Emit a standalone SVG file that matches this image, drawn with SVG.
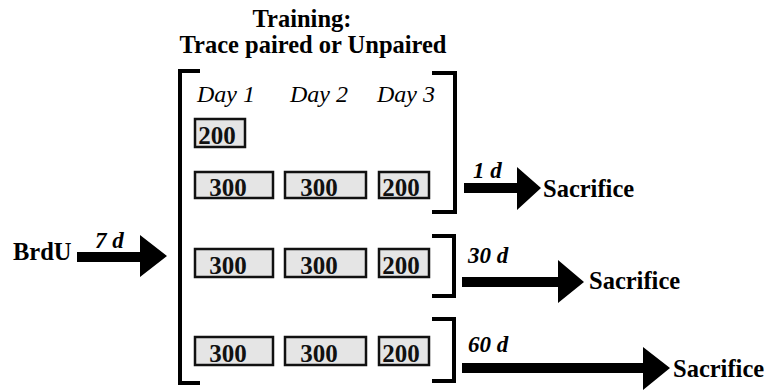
<svg xmlns="http://www.w3.org/2000/svg" width="770" height="391" viewBox="0 0 770 391">
<style>
.b{font-weight:bold;font-size:24.5px;fill:#000}
.i{font-style:italic;font-size:24px;fill:#000}
.bi{font-style:italic;font-weight:bold;font-size:23px;fill:#000}
.box{fill:#e5e5e5;stroke:#111;stroke-width:2.5}
.num{font-weight:bold;font-size:25px;fill:#111;text-anchor:middle}
.br{fill:none;stroke:#000;stroke-width:4;stroke-linejoin:miter}
.ar{fill:#000}
</style>
<rect width="770" height="391" fill="#fff"/>
<g id="title">
<text class="b" font-family="Liberation Serif" x="302" y="27" text-anchor="middle">Training:</text>
<text class="b" font-family="Liberation Serif" x="313" y="53" text-anchor="middle">Trace paired or Unpaired</text>
</g>
<g id="brackets">
<path class="br" d="M200,71 H180 V383 H200"/>
<path class="br" d="M432,73 H455 V212 H432"/>
<path class="br" d="M432,236 H454 V296 H432"/>
<path class="br" d="M432,319 H454 V381 H432"/>
</g>
<g id="days">
<text class="i" font-family="Liberation Serif" x="197" y="102">Day 1</text>
<text class="i" font-family="Liberation Serif" x="290" y="102">Day 2</text>
<text class="i" font-family="Liberation Serif" x="377" y="102">Day 3</text>
</g>
<g id="extra200">
<rect class="box" x="195" y="119" width="50" height="28"/>
<text class="num" font-family="Liberation Serif" x="217" y="144">200</text>
</g>
<g id="row1">
<rect class="box" x="195" y="172" width="78" height="26"/>
<text class="num" font-family="Liberation Serif" x="228" y="196">300</text>
<rect class="box" x="285" y="172" width="81" height="26"/>
<text class="num" font-family="Liberation Serif" x="319" y="196">300</text>
<rect class="box" x="379" y="172" width="50" height="26"/>
<text class="num" font-family="Liberation Serif" x="401" y="196">200</text>
</g>
<g id="row2">
<rect class="box" x="195" y="249" width="78" height="28"/>
<text class="num" font-family="Liberation Serif" x="228" y="274">300</text>
<rect class="box" x="285" y="249" width="81" height="28"/>
<text class="num" font-family="Liberation Serif" x="319" y="274">300</text>
<rect class="box" x="379" y="249" width="50" height="28"/>
<text class="num" font-family="Liberation Serif" x="401" y="274">200</text>
</g>
<g id="row3">
<rect class="box" x="195" y="337" width="78" height="28"/>
<text class="num" font-family="Liberation Serif" x="228" y="362">300</text>
<rect class="box" x="285" y="337" width="81" height="28"/>
<text class="num" font-family="Liberation Serif" x="319" y="362">300</text>
<rect class="box" x="379" y="337" width="50" height="28"/>
<text class="num" font-family="Liberation Serif" x="401" y="362">200</text>
</g>
<g id="brdu">
<text class="b" font-family="Liberation Serif" x="13" y="260">BrdU</text>
</g>
<g id="sac1"><text class="b" font-family="Liberation Serif" x="543" y="197">Sacrifice</text></g>
<g id="sac2"><text class="b" font-family="Liberation Serif" x="589" y="289">Sacrifice</text></g>
<g id="sac3"><text class="b" font-family="Liberation Serif" x="673" y="377">Sacrifice</text></g>
<g id="connectors">
<path class="ar" d="M77,252 H140 V235 L167,256 L140,277 V262 H77 Z"/>
<text class="bi" font-family="Liberation Serif" x="95" y="248">7 d</text>
<path class="ar" d="M464,183 H517 V167 L541,188 L517,210 V193 H464 Z"/>
<text class="bi" font-family="Liberation Serif" x="473" y="178">1 d</text>
<path class="ar" d="M462,277 H558 V260 L584,282 L558,303 V287 H462 Z"/>
<text class="bi" font-family="Liberation Serif" x="468" y="263">30 d</text>
<path class="ar" d="M462,363 H643 V347 L670,368 L643,390 V373 H462 Z"/>
<text class="bi" font-family="Liberation Serif" x="468" y="352">60 d</text>
</g>
</svg>
